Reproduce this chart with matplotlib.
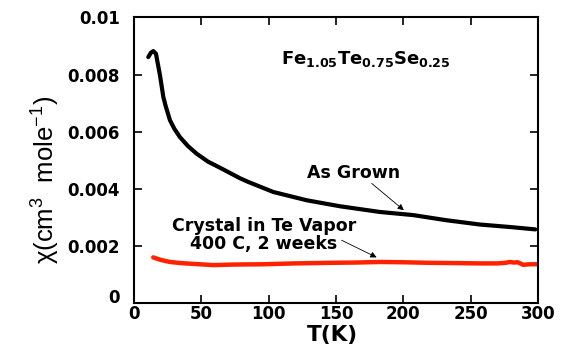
import matplotlib
matplotlib.use("Agg")
import matplotlib.pyplot as plt
from matplotlib.transforms import ScaledTranslation

plt.rcParams['font.family'] = ['DejaVu Sans']
plt.rcParams['mathtext.fontset'] = 'custom'
plt.rcParams['mathtext.rm'] = 'Liberation Sans'
plt.rcParams['mathtext.it'] = 'Liberation Sans:italic'
plt.rcParams['mathtext.bf'] = 'Liberation Sans:bold'

# As-grown crystal
t_grown = [10.6, 12.5, 14.3, 16.3, 19.3, 21.8, 23.5, 26.7, 30.0, 34.1, 40.0,
           46.5, 55.0, 63.8, 78.7, 84.9, 103.4, 128.2, 152.9, 182.6, 207.4,
           232.1, 256.9, 280.0, 298.0]
chi_grown = [0.00861, 0.00876, 0.00882, 0.00873, 0.00797, 0.00721, 0.0069,
             0.0064, 0.0061, 0.00581, 0.0055, 0.00523, 0.00495, 0.00474,
             0.00437, 0.00424, 0.00389, 0.0036, 0.00339, 0.00319, 0.00308,
             0.0029, 0.00275, 0.00266, 0.00258]

# Crystal annealed in Te vapor
t_anneal = [14.3, 20, 26.7, 35, 45, 58.9, 75, 96, 120, 145.5, 165, 182.6, 200,
            219.7, 240, 256.9, 270, 276, 279, 282, 285, 289, 294, 299]
chi_anneal = [0.0016, 0.00151, 0.00144, 0.0014, 0.00137, 0.00133, 0.00135,
              0.00136, 0.00139, 0.00141, 0.00142, 0.00144, 0.00143, 0.00141,
              0.0014, 0.00139, 0.00139, 0.00141, 0.00144, 0.00142, 0.00143,
              0.00134, 0.00136, 0.00136]

x_ticks = [0, 50, 100, 150, 200, 250, 300]
y_ticks = [0, 0.002, 0.004, 0.006, 0.008, 0.01]
y_tick_labels = ["0", "0.002", "0.004", "0.006", "0.008", "0.01"]

fig = plt.figure(figsize=(5.69, 3.48), dpi=100)
ax = fig.add_axes([0.2355, 0.129, 0.71, 0.821])

ax.plot(t_grown, chi_grown, color='black', lw=3.0, solid_capstyle='round',
        solid_joinstyle='round')
ax.plot(t_anneal, chi_anneal, color='#ff2200', lw=3.2, solid_capstyle='round',
        solid_joinstyle='round')

ax.set_xlim(0, 300)
ax.set_ylim(0, 0.01)
ax.set_xticks(x_ticks)
ax.set_xticklabels([str(v) for v in x_ticks])
ax.set_yticks(y_ticks)
ax.set_yticklabels(y_tick_labels)
ax.tick_params(direction='in', length=6, width=1.2, top=True, right=True,
               labelsize=12)
ax.tick_params(axis='y', pad=10)
ax.tick_params(axis='x', pad=1.5)
for lab in ax.get_xticklabels() + ax.get_yticklabels():
    lab.set_fontweight('bold')
# lift the y-axis "0" clear of the x-axis "0"
zero_lab = ax.get_yticklabels()[0]
zero_lab.set_transform(zero_lab.get_transform() +
                       ScaledTranslation(0, 5 / 72, fig.dpi_scale_trans))
for sp in ax.spines.values():
    sp.set_linewidth(1.5)

ax.set_xlabel('T(K)', fontsize=15.5, fontweight='bold')
ax.xaxis.set_label_coords(0.49, -0.075)
ax.set_ylabel('χ(cm$^{3}$  mole$^{-1}$)', fontsize=18.5,
              family='Liberation Sans')
ax.yaxis.set_label_coords(-0.178, 0.43)

ax.text(0.365, 0.855, r'$\mathbf{Fe_{1.05}Te_{0.75}Se_{0.25}}$',
        transform=ax.transAxes, fontsize=13, ha='left', va='center',
        math_fontfamily='dejavusans')

arrow = dict(arrowstyle='-|>', color='black', lw=0.6,
             mutation_scale=9, shrinkA=0, shrinkB=0)
ax.annotate('', xy=(200.4, 0.00325), xytext=(176.5, 0.00419),
            arrowprops=arrow)
ax.text(163, 0.00455, 'As Grown', fontsize=12.5, fontweight='bold',
        ha='center', va='center')
ax.annotate('', xy=(180.2, 0.0016), xytext=(154.2, 0.0022), arrowprops=arrow)
ax.text(96.5, 0.00238, 'Crystal in Te Vapor\n400 C, 2 weeks', fontsize=12.5,
        fontweight='bold', ha='center', va='center', multialignment='center',
        linespacing=0.95)

fig.savefig('out.png', dpi=100)
